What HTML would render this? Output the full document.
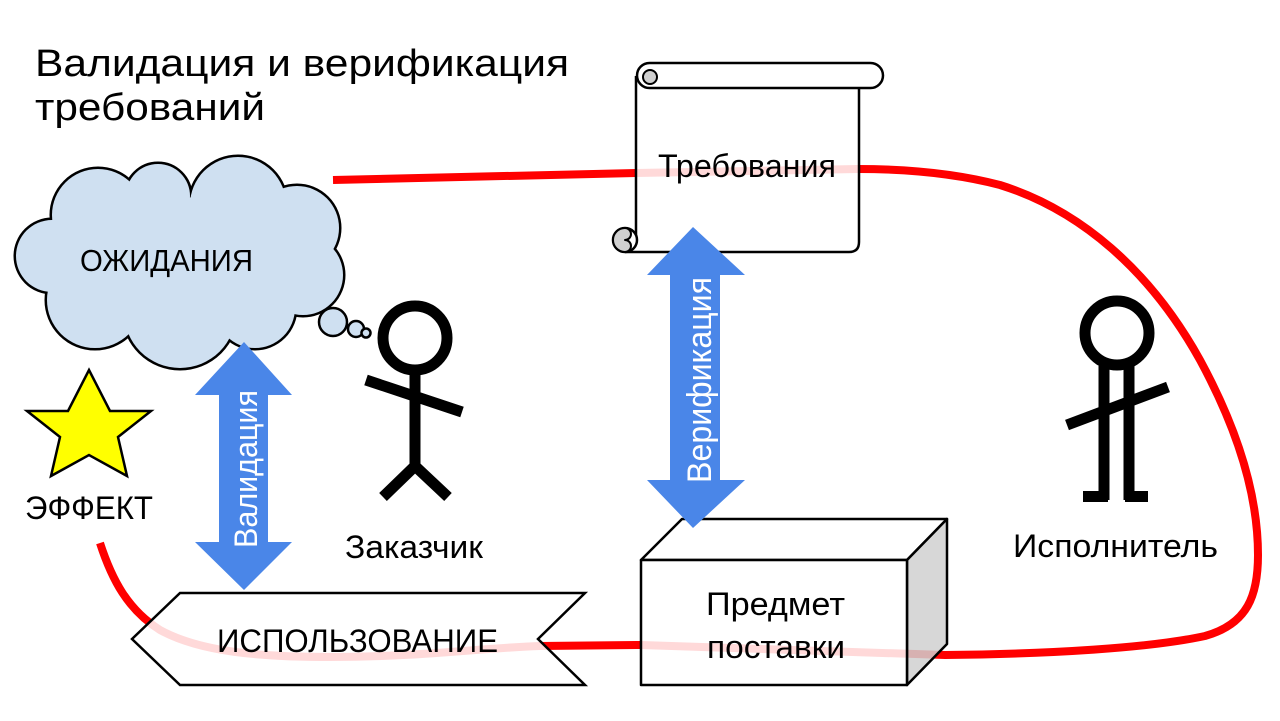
<!DOCTYPE html>
<html>
<head>
<meta charset="utf-8">
<style>
  html,body{margin:0;padding:0;background:#fff;}
  svg{display:block;}
  text{font-family:"Liberation Sans","Noto Sans CJK SC",sans-serif;}
</style>
</head>
<body>
<svg width="1280" height="721" viewBox="0 0 1280 721" xmlns="http://www.w3.org/2000/svg">
  <rect x="0" y="0" width="1280" height="721" fill="#ffffff"/>

  <!-- Title -->
  <text x="35" y="76" font-size="38" fill="#000" textLength="534" lengthAdjust="spacingAndGlyphs">Валидация и верификация</text>
  <text x="35" y="120" font-size="38" fill="#000" textLength="230" lengthAdjust="spacingAndGlyphs">требований</text>

  <!-- Red loop line (under shapes) -->
  <path d="M100,543 C112,580 128,610 160,630 C200,652 260,657 330,657 C420,657 480,648 540,646 L641,645 L945,655 C1050,654 1150,648 1205,636 C1248,624 1258,595 1258,555 C1258,495 1238,430 1200,360 C1150,270 1080,210 1000,185 C950,172 900,169 858,169 L636,173 L333,180"
        fill="none" stroke="#ff0000" stroke-width="8" stroke-linejoin="round"/>

  <!-- Cloud: stroke layer -->
  <g fill="#000" stroke="#000" stroke-width="5">
    <circle cx="52" cy="256" r="36"/>
    <circle cx="98" cy="215" r="46"/>
    <circle cx="158" cy="196" r="32"/>
    <circle cx="238" cy="205" r="48"/>
    <circle cx="297" cy="228" r="42"/>
    <circle cx="303" cy="275" r="40"/>
    <circle cx="255" cy="308" r="40"/>
    <circle cx="180" cy="312" r="56"/>
    <circle cx="95" cy="300" r="48"/>
  </g>
  <!-- Cloud: fill layer -->
  <g fill="#cfe0f1">
    <circle cx="52" cy="256" r="36"/>
    <circle cx="98" cy="215" r="46"/>
    <circle cx="158" cy="196" r="32"/>
    <circle cx="238" cy="205" r="48"/>
    <circle cx="297" cy="228" r="42"/>
    <circle cx="303" cy="275" r="40"/>
    <circle cx="255" cy="308" r="40"/>
    <circle cx="180" cy="312" r="56"/>
    <circle cx="95" cy="300" r="48"/>
    <ellipse cx="175" cy="262" rx="130" ry="65"/>
  </g>
  <!-- thought bubbles -->
  <g fill="#cfe0f1" stroke="#000" stroke-width="2.5">
    <circle cx="333" cy="322" r="14"/>
    <circle cx="356" cy="329" r="8"/>
    <circle cx="366" cy="333" r="4.5"/>
  </g>
  <text x="80" y="271" font-size="31" fill="#000" textLength="173" lengthAdjust="spacingAndGlyphs">ОЖИДАНИЯ</text>

  <!-- Scroll (Требования) -->
  <g stroke="#000" stroke-width="2.5" stroke-linejoin="round">
    <path d="M636,80 L859,80 L859,242 Q859,252 849,252 L625,252 L625,240 L636,240 Z" fill="#ffffff" fill-opacity="0.85" stroke="none"/>
    <path d="M636,76 L636,240" fill="none"/>
    <path d="M859,88 L859,242 Q859,252 849,252 L625,252" fill="none"/>
    <rect x="637" y="63" width="246" height="25" rx="12.5" ry="12.5" fill="#ffffff"/>
    <circle cx="650" cy="77" r="7" fill="#d0d0d0" stroke-width="2"/>
    <circle cx="625" cy="240" r="12" fill="#ffffff"/>
    <path d="M625,240 a6,6 0 0 1 0,12 a12,12 0 0 1 0,-24 a6,6 0 0 1 0,12 z" fill="#d0d0d0" stroke-width="2"/>
  </g>
  <text x="658" y="177" font-size="32" fill="#000" textLength="178" lengthAdjust="spacingAndGlyphs">Требования</text>

  <!-- Box (Предмет поставки) -->
  <g stroke="#000" stroke-width="2.5" stroke-linejoin="round">
    <polygon points="641,560 682,519 947,519 907,560" fill="#ffffff" fill-opacity="0.85"/>
    <polygon points="907,560 947,519 947,644 907,685" fill="#d0d0d0" fill-opacity="0.85"/>
    <rect x="641" y="560" width="266" height="125" fill="#ffffff" fill-opacity="0.85"/>
  </g>
  <text x="706" y="615" font-size="32" fill="#000" textLength="139" lengthAdjust="spacingAndGlyphs">Предмет</text>
  <text x="707" y="658" font-size="32" fill="#000" textLength="138" lengthAdjust="spacingAndGlyphs">поставки</text>

  <!-- ИСПОЛЬЗОВАНИЕ chevron -->
  <polygon points="132,639 180,593 585,593 538,639 585,685 180,685" fill="#ffffff" fill-opacity="0.85" stroke="#000" stroke-width="2.5" stroke-linejoin="miter"/>
  <text x="217" y="652" font-size="32" fill="#000" textLength="281" lengthAdjust="spacingAndGlyphs">ИСПОЛЬЗОВАНИЕ</text>

  <!-- Star -->
  <polygon points="89,370 110,411 151,411 118,437 127,476 89,455 51,476 60,437 27,411 68,411" fill="#ffff00" stroke="#000" stroke-width="2.5" stroke-linejoin="miter"/>
  <text x="25" y="519" font-size="32" fill="#000" textLength="128" lengthAdjust="spacingAndGlyphs">ЭФФЕКТ</text>

  <!-- Validation arrow -->
  <polygon points="244,342 292,395 268,395 268,542 292,542 244,590 195,542 219,542 219,395 195,395" fill="#4a86e8"/>
  <text transform="translate(257,548) rotate(-90)" x="0" y="0" font-size="32" fill="#ffffff" textLength="158" lengthAdjust="spacingAndGlyphs">Валидация</text>

  <!-- Verification arrow -->
  <polygon points="693,227 745,275 720,275 720,480 745,480 693,528 647,480 670,480 670,275 647,275" fill="#4a86e8"/>
  <text transform="translate(711,483) rotate(-90)" x="0" y="0" font-size="34" fill="#ffffff" textLength="206" lengthAdjust="spacingAndGlyphs">Верификация</text>

  <!-- Заказчик stick figure -->
  <g stroke="#000" stroke-width="11" fill="none">
    <circle cx="415" cy="338" r="32"/>
    <line x1="415" y1="370" x2="415" y2="468"/>
    <line x1="366" y1="380" x2="462" y2="412"/>
    <line x1="415" y1="466" x2="383" y2="497"/>
    <line x1="415" y1="466" x2="448" y2="497"/>
  </g>
  <text x="345" y="558" font-size="32" fill="#000" textLength="138" lengthAdjust="spacingAndGlyphs">Заказчик</text>

  <!-- Исполнитель stick figure -->
  <g stroke="#000" stroke-width="11" fill="none">
    <circle cx="1117" cy="333" r="32"/>
    <line x1="1104" y1="366" x2="1104" y2="500"/>
    <line x1="1129" y1="366" x2="1129" y2="500"/>
    <line x1="1067" y1="425" x2="1168" y2="387"/>
  </g>
  <rect x="1083" y="491" width="25" height="11" fill="#000"/>
  <rect x="1125" y="491" width="23" height="11" fill="#000"/>
  <text x="1013" y="557" font-size="32" fill="#000" textLength="205" lengthAdjust="spacingAndGlyphs">Исполнитель</text>
</svg>
</body>
</html>
